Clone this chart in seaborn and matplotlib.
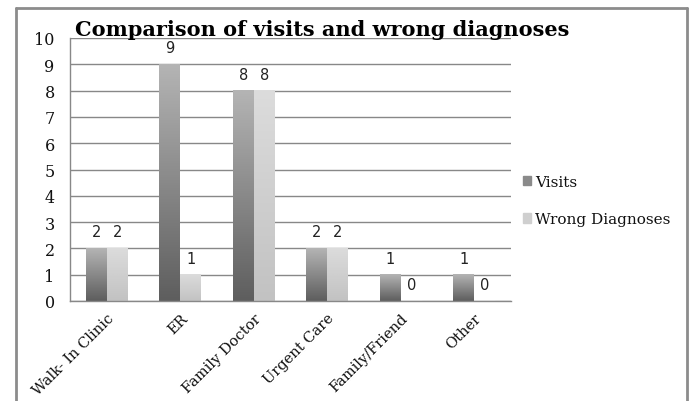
import pandas as pd
import seaborn as sns
import matplotlib.pyplot as plt
import numpy as np
from matplotlib.lines import Line2D
from matplotlib.colors import LinearSegmentedColormap

# chart data
categories = ["Walk- In Clinic", "ER", "Family Doctor", "Urgent Care", "Family/Friend", "Other"]
visits = [2, 9, 8, 2, 1, 1]
wrong = [2, 1, 8, 2, 0, 0]
series = ["Visits", "Wrong Diagnoses"]

df = pd.DataFrame({
    "category": categories * 2,
    "value": visits + wrong,
    "series": [series[0]] * len(categories) + [series[1]] * len(categories),
})

sns.set_style("white")
plt.rcParams["font.family"] = ["DejaVu Serif"]

fig = plt.figure(figsize=(6.89, 4.02), dpi=100)
ax = fig.add_axes([70 / 689, 1 - 302 / 402, 441 / 689, 263 / 402])

palette = {"Visits": "#8a8a8a", "Wrong Diagnoses": "#cfcfcf"}
sns.barplot(data=df, x="category", y="value", hue="series", palette=palette,
            width=0.57, gap=0, ax=ax, saturation=1, legend=True)

# gradient fill for each bar
grads = {
    "Visits": LinearSegmentedColormap.from_list("v", ["#5e5e5e", "#b4b4b4"]),
    "Wrong Diagnoses": LinearSegmentedColormap.from_list("w", ["#c2c2c2", "#dcdcdc"]),
}
grad = np.linspace(0, 1, 100).reshape(-1, 1)
for cont, name in zip(ax.containers, series):
    for p in cont:
        x0, y0 = p.get_x(), p.get_y()
        w, h = p.get_width(), p.get_height()
        if h <= 0:
            continue
        p.set_alpha(0)
        ax.imshow(grad, cmap=grads[name], origin="lower", aspect="auto",
                  extent=(x0, x0 + w, y0, y0 + h), zorder=2)
    ax.bar_label(cont, padding=6.5, fontsize=10.5, family="DejaVu Sans", color="#222222")

ax.set_xlim(-0.5, len(categories) - 0.5)
ax.set_ylim(0, 10)
ax.set_yticks(range(0, 11))
ax.set_xticks(np.arange(-0.5, len(categories), 1), minor=True)
ax.yaxis.grid(True, color="#888888", linewidth=1)
ax.set_axisbelow(True)
ax.set_xlabel("")
ax.set_ylabel("")

for s in ["top", "right"]:
    ax.spines[s].set_visible(False)
for s in ["left", "bottom"]:
    ax.spines[s].set_color("#888888")
    ax.spines[s].set_linewidth(1)

ax.tick_params(axis="y", length=5, color="#888888", labelsize=11.5, pad=6,
               labelcolor="#111111")
ax.tick_params(axis="x", which="major", length=0, labelsize=10.5, pad=7,
               labelcolor="#111111")
ax.tick_params(axis="x", which="minor", length=5, color="#888888")
plt.setp(ax.get_xticklabels(), rotation=45, ha="right", rotation_mode="anchor")

handles = [plt.Rectangle((0, 0), 1, 1, color="#8a8a8a"),
           plt.Rectangle((0, 0), 1, 1, color="#cfcfcf")]
ax.legend(handles, series, loc="center left", bbox_to_anchor=(0.995, 0.382),
          frameon=False, fontsize=11, handlelength=0.55, handleheight=0.55,
          handletextpad=0.25, labelspacing=1.55, labelcolor="#111111")

fig.text(75 / 689, 1 - 36 / 402, "Comparison of visits and wrong diagnoses",
         fontsize=15, fontweight="bold", va="baseline", ha="left", color="black")

# outer chart frame
fr = dict(color="#8c8c8c", linewidth=2, transform=fig.transFigure)
fig.add_artist(Line2D([16 / 689, 687 / 689], [1 - 9 / 402, 1 - 9 / 402], **fr))
fig.add_artist(Line2D([16 / 689, 16 / 689], [1 - 9 / 402, 0], **fr))
fig.add_artist(Line2D([687 / 689, 687 / 689], [1 - 9 / 402, 0], **fr))

fig.savefig("out.png", dpi=100)
